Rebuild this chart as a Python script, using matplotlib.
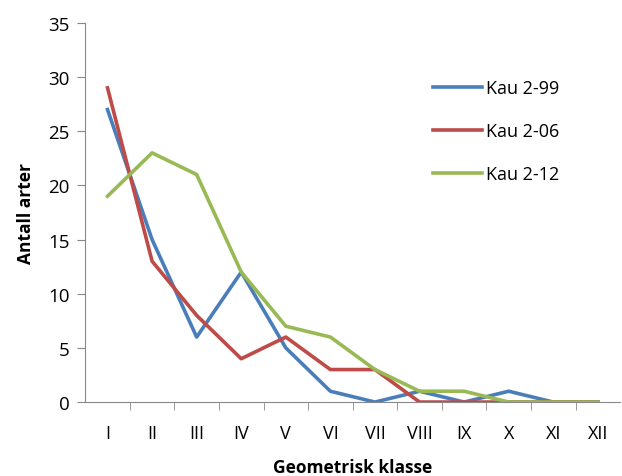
import matplotlib
matplotlib.use("Agg")
import matplotlib.pyplot as plt

klasser = ["I", "II", "III", "IV", "V", "VI", "VII", "VIII", "IX", "X", "XI", "XII"]
kau_2_99 = [27, 15, 6, 12, 5, 1, 0, 1, 0, 1, 0, 0]
kau_2_06 = [29, 13, 8, 4, 6, 3, 3, 0, 0, 0, 0, 0]
kau_2_12 = [19, 23, 21, 12, 7, 6, 3, 1, 1, 0, 0, 0]

plt.rcParams["font.family"] = ["Open Sans", "DejaVu Sans"]

fig = plt.figure(figsize=(6.22, 4.77), dpi=100)
ax = fig.add_axes([0.137, 0.155, 0.86, 0.795])

x = range(len(klasser))
ax.plot(x, kau_2_99, color="#4A7EBB", lw=2.6, label="Kau 2-99")
ax.plot(x, kau_2_06, color="#BE4B48", lw=2.6, label="Kau 2-06")
ax.plot(x, kau_2_12, color="#98B954", lw=2.6, label="Kau 2-12")

ax.set_xlim(-0.5, len(klasser) - 0.5)
ax.set_ylim(0, 35)
ax.set_yticks(range(0, 36, 5))
ax.set_xticks(list(x))
ax.set_xticklabels(klasser)
ax.set_xticks([i + 0.5 for i in range(len(klasser) - 1)], minor=True)
ax.tick_params(axis="x", which="major", length=0, pad=16, labelsize=13)
ax.tick_params(axis="x", which="minor", length=6, color="#888888", direction="out")
ax.tick_params(axis="y", length=6, color="#888888", labelsize=13.5, pad=5)

for side in ["top", "right"]:
    ax.spines[side].set_visible(False)
ax.spines["left"].set_color("#888888")
ax.spines["bottom"].set_color("#888888")

ax.set_xlabel("Geometrisk klasse", fontsize=12.5, fontweight="bold", labelpad=11)
ax.set_ylabel("Antall arter", fontsize=12.5, fontweight="bold", labelpad=10)

ax.legend(loc="upper left", bbox_to_anchor=(0.62, 0.895), frameon=False,
          fontsize=13, handlelength=2.7, handletextpad=0.25, labelspacing=1.4)

fig.savefig("out.png", dpi=100)
